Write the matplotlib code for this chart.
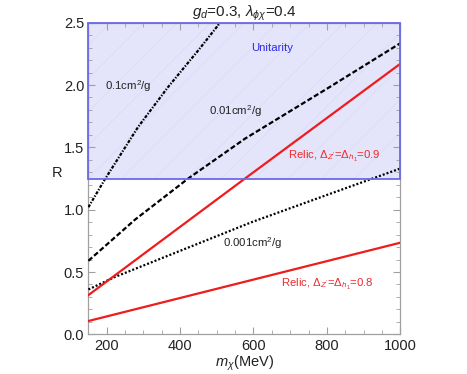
import matplotlib
matplotlib.use("Agg")
import matplotlib.pyplot as plt
from matplotlib.patches import Rectangle
from matplotlib.ticker import MultipleLocator

plt.rcParams['font.family'] = ['Liberation Sans', 'DejaVu Sans']
plt.rcParams['mathtext.fontset'] = 'custom'
plt.rcParams['mathtext.rm'] = 'Liberation Sans'
plt.rcParams['mathtext.it'] = 'Liberation Sans:italic'
plt.rcParams['mathtext.bf'] = 'Liberation Sans:bold'
plt.rcParams['hatch.linewidth'] = 0.6

# ---- data ----
m_01 = [150, 195, 286, 368, 450, 509]
R_01 = [1.02, 1.244, 1.666, 1.987, 2.28, 2.50]

m_001 = [150, 277, 422, 577, 800, 1000]
R_001 = [0.59, 0.92, 1.25, 1.57, 1.97, 2.335]

m_0001 = [150, 222, 595, 800, 1000]
R_0001 = [0.36, 0.46, 0.90, 1.118, 1.33]

m_relic09 = [150, 575, 1000]
R_relic09 = [0.315, 1.246, 2.17]

m_relic08 = [150, 1000]
R_relic08 = [0.107, 0.735]

unit_R_min = 1.25
x_range = [150, 1000]
y_range = [0.0, 2.5]

fig = plt.figure(figsize=(4.67, 3.74), dpi=100)
ax = fig.add_axes([0.1893, 0.106, 0.6677, 0.8333])

# Unitarity region
ax.add_patch(Rectangle((x_range[0], unit_R_min), x_range[1]-x_range[0], y_range[1]-unit_R_min,
                       facecolor='#e4e4fb', edgecolor='none', zorder=1))
ax.add_patch(Rectangle((x_range[0], unit_R_min), x_range[1]-x_range[0], y_range[1]-unit_R_min,
                       facecolor='none', edgecolor='#dcdcf5', hatch='/', linewidth=0, zorder=1.1))
ax.add_patch(Rectangle((x_range[0], unit_R_min), x_range[1]-x_range[0], y_range[1]-unit_R_min,
                       facecolor='none', edgecolor='#6a6ae8', linewidth=1.3, zorder=4, clip_on=False))

lw = 1.6
ax.plot(m_01, R_01, color='black', lw=lw, linestyle=(0, (1.4, 0.7, 0.6, 0.7)), zorder=3)
ax.plot(m_001, R_001, color='black', lw=lw, linestyle=(0, (2.3, 1.1)), zorder=3)
ax.plot(m_0001, R_0001, color='black', lw=lw, linestyle=(0, (0.9, 0.9)), zorder=3)
ax.plot(m_relic09, R_relic09, color='#ee1c1c', lw=lw, zorder=3)
ax.plot(m_relic08, R_relic08, color='#ee1c1c', lw=lw, zorder=3)

fs = 8.2
ax.text(651, 2.30, 'Unitarity', color='#2a2ae6', fontsize=fs, ha='center', va='center', zorder=5)
ax.text(259, 1.99, '0.1cm$^2$/g', color='#222222', fontsize=fs, ha='center', va='center', zorder=5)
ax.text(550, 1.79, '0.01cm$^2$/g', color='#222222', fontsize=fs, ha='center', va='center', zorder=5)
ax.text(599, 0.735, '0.001cm$^2$/g', color='#222222', fontsize=fs, ha='center', va='center', zorder=5)
ax.text(820, 1.425, "Relic, $\\Delta_{Z'}$=$\\Delta_{h_1}$=0.9", color='#ee2a2a', fontsize=fs,
        ha='center', va='center', zorder=5)
ax.text(800, 0.404, "Relic, $\\Delta_{Z'}$=$\\Delta_{h_1}$=0.8", color='#ee2a2a', fontsize=fs,
        ha='center', va='center', zorder=5)

ax.set_xlim(x_range)
ax.set_ylim(y_range)
ax.xaxis.set_major_locator(MultipleLocator(200))
ax.xaxis.set_minor_locator(MultipleLocator(50))
ax.yaxis.set_major_locator(MultipleLocator(0.5))
ax.yaxis.set_minor_locator(MultipleLocator(0.1))
ax.set_yticks([0.0, 0.5, 1.0, 1.5, 2.0, 2.5])
ax.set_yticklabels(['0.0', '0.5', '1.0', '1.5', '2.0', '2.5'])

for s in ax.spines.values():
    s.set_color('#a0a0a0')
    s.set_linewidth(0.9)
ax.tick_params(which='both', direction='in', top=True, right=True, color='#a0a0a0',
               labelsize=10.5, labelcolor='#222222', pad=3)
ax.tick_params(which='major', length=5, width=0.8)
ax.tick_params(which='minor', length=3, width=0.6)

ax.set_xlabel('$m_\\chi$(MeV)', fontsize=10.5, color='#222222', labelpad=1)
ax.set_ylabel('R', fontsize=10.5, color='#222222', rotation=0)
ax.yaxis.set_label_coords(-0.10, 0.495)
ax.set_title('$g_d$=0.3, $\\lambda_{\\phi\\chi}$=0.4', fontsize=11, color='#222222', pad=3)

fig.savefig('out.png', dpi=100)
